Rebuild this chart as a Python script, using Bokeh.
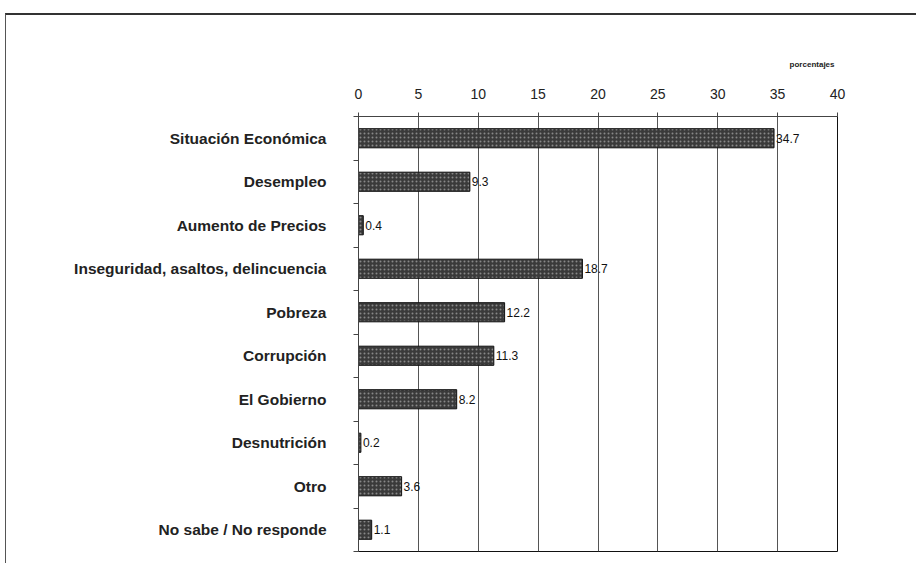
from bokeh.plotting import figure
from bokeh.models import FixedTicker, Range1d, Title, ColumnDataSource, LabelSet
from bokeh.core.properties import value
from bokeh.embed import file_html
from bokeh.resources import INLINE

categories = ["Situación Económica", "Desempleo", "Aumento de Precios",
              "Inseguridad, asaltos, delincuencia", "Pobreza", "Corrupción",
              "El Gobierno", "Desnutrición", "Otro", "No sabe / No responde"]
values = [34.7, 9.3, 0.4, 18.7, 12.2, 11.3, 8.2, 0.2, 3.6, 1.1]
x_ticks = [0, 5, 10, 15, 20, 25, 30, 35, 40]

n = len(categories)
ypos = [n - 0.5 - i for i in range(n)]
labels_txt = [f"{v:.1f}" for v in values]
src = ColumnDataSource(dict(y=ypos, v=values, t=labels_txt))

p = figure(width=911, height=550, output_backend="svg", toolbar_location=None,
           x_range=Range1d(0, 40), y_range=Range1d(0, n),
           x_axis_location="above",
           min_border_left=352, min_border_top=101, min_border_right=80,
           min_border_bottom=14)
p.styles = {"border-top": "2px solid #333", "border-left": "1px solid #555",
            "margin-left": "5px", "margin-top": "13px"}

p.hbar(y="y", right="v", left=0, height=0.44, source=src,
       fill_color="#3a3a3a", line_color="#111", line_width=1,
       hatch_pattern="dot", hatch_color="#888", hatch_scale=4)

p.add_layout(LabelSet(x="v", y="y", text="t", source=src, x_offset=2,
                      text_baseline="middle", text_font=value("Liberation Sans"),
                      text_font_size="12px", text_color="#111"))

p.xaxis.ticker = FixedTicker(ticks=x_ticks)
p.xaxis.major_label_text_font = "Liberation Sans"
p.xaxis.major_label_text_font_size = "14px"
p.xaxis.major_label_text_color = "#222"
p.xaxis.major_tick_in = 0
p.xaxis.major_tick_out = 4
p.xaxis.minor_tick_out = 0
p.xaxis.axis_line_color = "#444"
p.xaxis.major_tick_line_color = "#444"
p.xaxis.major_label_standoff = 14

p.yaxis.ticker = FixedTicker(ticks=ypos, minor_ticks=list(range(n + 1)))
p.yaxis.major_label_overrides = {y: c for y, c in zip(ypos, categories)}
p.yaxis.major_label_text_font = "Liberation Sans"
p.yaxis.major_label_text_font_style = "bold"
p.yaxis.major_label_text_font_size = "15.5px"
p.yaxis.major_label_text_color = "#222"
p.yaxis.major_tick_out = 0
p.yaxis.major_tick_in = 0
p.yaxis.minor_tick_out = 5
p.yaxis.minor_tick_in = 0
p.yaxis.minor_tick_line_color = "#444"
p.yaxis.axis_line_color = "#444"
p.yaxis.major_label_standoff = 27

p.xgrid.ticker = FixedTicker(ticks=x_ticks)
p.xgrid.grid_line_color = "#555"
p.ygrid.grid_line_color = None
p.outline_line_color = "#111"
p.outline_line_width = 1

p.add_layout(Title(text="porcentajes", align="right", text_font="Liberation Sans",
                   text_font_style="bold", text_font_size="8px",
                   text_color="#222", standoff=34, offset=3), "above")

open("out.html", "w").write(file_html(p, INLINE))
